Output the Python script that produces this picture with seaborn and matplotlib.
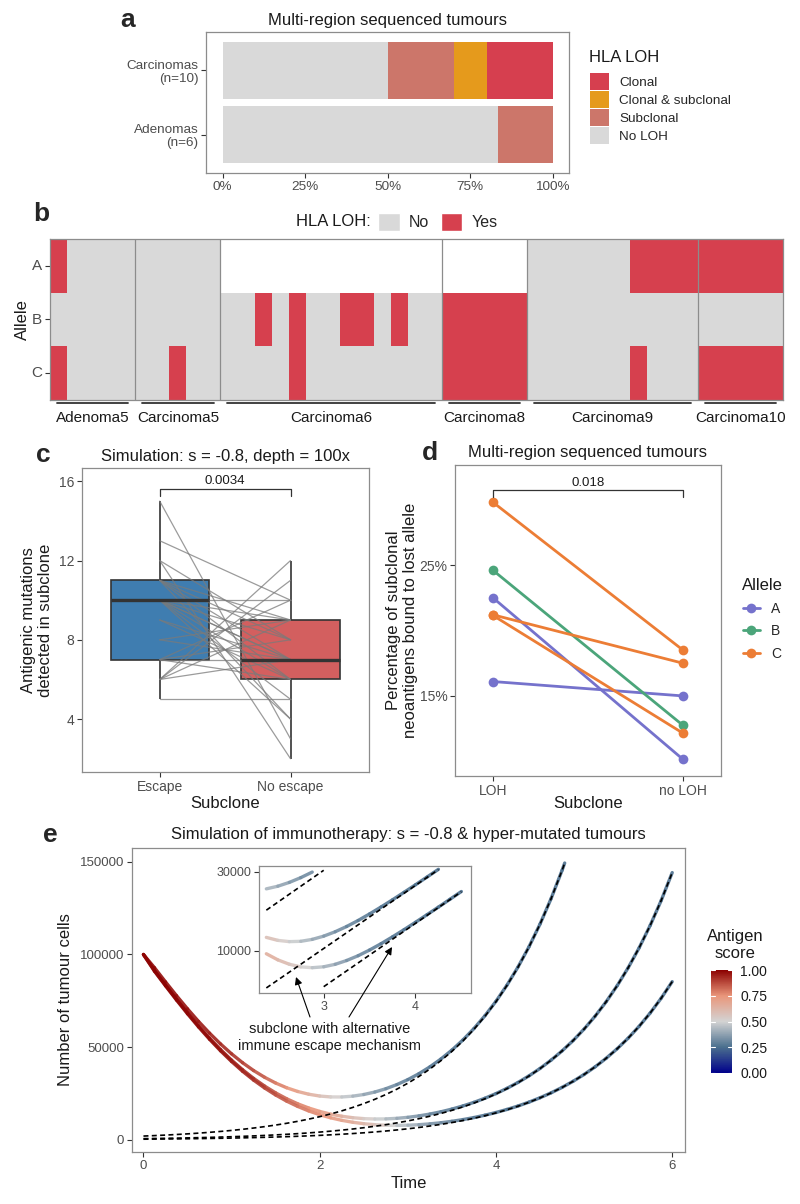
import numpy as np
import pandas as pd
import matplotlib
matplotlib.use("Agg")
import matplotlib.pyplot as plt
import seaborn as sns
from matplotlib.collections import LineCollection
from matplotlib.colors import LinearSegmentedColormap, ListedColormap, Normalize
from matplotlib.cm import ScalarMappable
from matplotlib.patches import Patch
from matplotlib.lines import Line2D
from matplotlib.ticker import NullLocator

sns.set_theme(style="white")
plt.rcParams["font.family"] = ["Liberation Sans", "DejaVu Sans"]

##################################  DATA  #####################################

# a: HLA LOH status per tumour type (counts of tumours)
tumour_types = ["Adenomas\n(n=6)", "Carcinomas\n(n=10)"]
loh_classes = ["No LOH", "Subclonal", "Clonal & subclonal", "Clonal"]
n_no_loh = [5, 5]
n_subclonal = [1, 2]
n_clonal_subclonal = [0, 1]
n_clonal = [0, 2]
loh_colours = ["#D9D9D9", "#CC766A", "#E59A1C", "#D63F4F"]

# b: LOH per region, one character per region ("-" = allele not assessed)
samples = ["Adenoma5", "Carcinoma5", "Carcinoma6", "Carcinoma8", "Carcinoma9", "Carcinoma10"]
n_regions = [5, 5, 13, 5, 10, 5]
alleles = ["A", "B", "C"]
loh_allele_a = ["10000", "00000", "-------------", "-----", "0000001111", "11111"]
loh_allele_b = ["00000", "00000", "0010100110100", "11111", "0000000000", "00000"]
loh_allele_c = ["10000", "00100", "0000100000000", "11111", "0000001000", "11111"]

# c: simulated antigenic mutations, paired escape / no escape subclones
subclone_c = ["Escape", "No escape"]
escape_mut = [15, 13, 12, 12, 11, 11, 11, 11, 11, 10, 10, 10, 10, 10, 10,
              10, 10, 9, 9, 8, 8, 7, 7, 7, 7, 6, 6, 6, 6, 5]
no_escape_mut = [3, 10, 8, 2, 9, 8, 7, 4, 6, 10, 7, 6, 8, 5, 4,
                 9, 7, 7, 6, 7, 9, 10, 7, 8, 6, 12, 11, 9, 7, 5]
box_colours = ["#3F7DB0", "#D35F5F"]

# d: % subclonal neoantigens bound to lost allele
subclone_d = ["LOH", "no LOH"]
allele_d = ["C", "B", "A", "C", "C", "A"]
pct_loh = [29.8, 24.6, 22.5, 21.2, 21.15, 16.1]
pct_no_loh = [18.5, 12.75, 10.15, 17.5, 12.15, 15.0]
allele_colours = {"A": "#7572CC", "B": "#4BA57A", "C": "#EC7D35"}

# e: simulated tumour sizes under immunotherapy
time_t1 = [0.0, 0.125, 0.25, 0.375, 0.5, 0.625, 0.75, 0.875, 1.0, 1.125, 1.25, 1.375,
           1.5, 1.625, 1.75, 1.875, 2.0, 2.125, 2.25, 2.375, 2.5, 2.625, 2.75, 2.875,
           3.0, 3.125, 3.25, 3.375, 3.5, 3.625, 3.75, 3.875, 4.0, 4.125, 4.25, 4.375,
           4.5, 4.625, 4.75, 4.78]
cells_t1 = [100000, 92870, 85230, 77800, 70670, 63910, 57590, 51750, 46430, 41650,
            37440, 33800, 30710, 28160, 26160, 24680, 23700, 23210, 23190, 23630,
            24520, 25850, 27630, 29860, 32550, 35720, 39410, 43640, 48460, 53910,
            60070, 66990, 74760, 83480, 93250, 104180, 116390, 130070, 145350, 149300]
score_t1 = [0.98, 0.981, 0.977, 0.971, 0.965, 0.957, 0.946, 0.933, 0.917, 0.896,
            0.871, 0.84, 0.803, 0.76, 0.711, 0.658, 0.602, 0.546, 0.492, 0.443,
            0.40, 0.364, 0.335, 0.312, 0.295, 0.282, 0.272, 0.265, 0.261, 0.257,
            0.255, 0.253, 0.252, 0.251, 0.251, 0.25, 0.25, 0.25, 0.25, 0.25]
escape_t1 = [2120, 2370, 2648, 2960, 3308, 3697, 4133, 4619, 5162, 5770, 6449, 7208,
             8056, 9004, 10064, 11249, 12571, 14051, 15704, 17552, 19617, 21926, 24506,
             27390, 30613, 34216, 38242, 42743, 47772, 53395, 59676, 66700, 74545,
             83319, 93130, 104091, 116330, 130022, 145320, 149250]

time_t23 = [0.0, 0.125, 0.25, 0.375, 0.5, 0.625, 0.75, 0.875, 1.0, 1.125, 1.25, 1.375,
            1.5, 1.625, 1.75, 1.875, 2.0, 2.125, 2.25, 2.375, 2.5, 2.625, 2.75, 2.875,
            3.0, 3.125, 3.25, 3.375, 3.5, 3.625, 3.75, 3.875, 4.0, 4.125, 4.25, 4.375,
            4.5, 4.625, 4.75, 4.875, 5.0, 5.125, 5.25, 5.375, 5.5, 5.625, 5.75, 5.875, 6.0]
cells_t2 = [100000, 91320, 83500, 75860, 68500, 61480, 54880, 48720, 43040, 37860,
            33200, 29050, 25400, 22230, 19520, 17250, 15400, 13920, 12810, 12010,
            11520, 11320, 11370, 11680, 12220, 12990, 13980, 15200, 16660, 18350,
            20290, 22510, 25010, 27840, 31020, 34580, 38560, 43030, 48010, 53580,
            59800, 66740, 74500, 83160, 92830, 103620, 115670, 129120, 144140]
score_t2 = [0.985, 0.988, 0.99, 0.988, 0.985, 0.98, 0.972, 0.962, 0.95, 0.93,
            0.91, 0.88, 0.85, 0.82, 0.79, 0.76, 0.73, 0.69, 0.65, 0.605,
            0.555, 0.505, 0.456, 0.41, 0.369, 0.34, 0.313, 0.296, 0.281, 0.272,
            0.264, 0.26, 0.256, 0.254, 0.253, 0.252, 0.251, 0.25, 0.25, 0.25,
            0.25, 0.25, 0.25, 0.25, 0.25, 0.25, 0.25, 0.25, 0.25]
escape_t2 = [734, 819, 915, 1021, 1140, 1273, 1420, 1585, 1770, 1976, 2205, 2461,
             2748, 3068, 3424, 3822, 4266, 4762, 5316, 5934, 6624, 7394, 8254, 9214,
             10286, 11482, 12817, 14308, 15971, 17828, 19901, 22215, 24798, 27682,
             30900, 34494, 38503, 42981, 47979, 53559, 59785, 66738, 74496, 83160,
             92827, 103623, 115670, 129123, 144136]
cells_t3 = [100000, 90980, 83110, 75430, 68020, 60950, 54290, 48060, 42300, 37030,
            32280, 28030, 24260, 20950, 18100, 15670, 13630, 11950, 10600, 9560,
            8780, 8260, 7960, 7870, 7970, 8250, 8700, 9300, 10070, 11000,
            12100, 13370, 14820, 16470, 18320, 20420, 22770, 25400, 28350, 31640,
            35320, 39430, 44030, 49170, 54900, 61310, 68460, 76450, 85370]
score_t3 = [0.99, 0.992, 0.993, 0.992, 0.99, 0.985, 0.978, 0.968, 0.955, 0.94,
            0.92, 0.895, 0.87, 0.84, 0.81, 0.785, 0.76, 0.73, 0.70, 0.665,
            0.625, 0.58, 0.53, 0.48, 0.432, 0.39, 0.35, 0.325, 0.301, 0.287,
            0.274, 0.267, 0.261, 0.258, 0.255, 0.253, 0.252, 0.25, 0.25, 0.25,
            0.25, 0.25, 0.25, 0.25, 0.25, 0.25, 0.25, 0.25, 0.25]
escape_t3 = [427, 477, 532, 594, 664, 741, 828, 925, 1033, 1154, 1288, 1438,
             1606, 1793, 2002, 2236, 2497, 2788, 3113, 3476, 3883, 4336, 4842, 5407,
             6038, 6743, 7529, 8408, 9389, 10485, 11708, 13074, 14601, 16305, 18207,
             20332, 22704, 25354, 28314, 31618, 35304, 39424, 44028, 49166, 54899,
             61306, 68461, 76450, 85374]

antigen_colours = ["#00008B", "#4A6F8E", "#D3D3D3", "#E9967A", "#8B0000"]

#################################  HELPERS  ###################################

W, H = 800, 1204
BORDER = "#8C8C8C"
TICK_TXT = "#4D4D4D"
TXT = "#1A1A1A"


def box(x0, y0, x1, y1):
    """Axes rectangle from pixel corners (top-left origin)."""
    return [x0 / W, 1 - y1 / H, (x1 - x0) / W, (y1 - y0) / H]


def fpos(x, y):
    return (x / W, 1 - y / H)


def gg_axes(ax, size=9.5):
    for sp in ax.spines.values():
        sp.set_visible(True)
        sp.set_color(BORDER)
        sp.set_linewidth(0.9)
    ax.tick_params(axis="both", which="major", length=3.5, width=0.8, color="#333333",
                   labelcolor=TICK_TXT, labelsize=size, pad=2, direction="out",
                   bottom=True, left=True)
    ax.grid(False)
    ax.set_xlabel("")
    ax.set_ylabel("")


def gradient_line(ax, t, y, score, cmap, lw=2.4):
    pts = np.column_stack([t, y])
    segs = np.stack([pts[:-1], pts[1:]], axis=1)
    sc = np.asarray(score)
    lc = LineCollection(segs, cmap=cmap, norm=Normalize(0, 1), linewidth=lw,
                        capstyle="round", joinstyle="round", alpha=0.9)
    lc.set_array((sc[:-1] + sc[1:]) / 2)
    ax.add_collection(lc)


fig = plt.figure(figsize=(W / 100, H / 100), dpi=100)

##################################  PANEL A  ##################################

axa = fig.add_axes(box(206, 32, 569, 173))
totals = np.array(n_no_loh) + np.array(n_subclonal) + np.array(n_clonal_subclonal) + np.array(n_clonal)
left = np.zeros(len(tumour_types))
for counts, col in zip([n_no_loh, n_subclonal, n_clonal_subclonal, n_clonal], loh_colours):
    frac = np.array(counts) / totals
    axa.barh(range(len(tumour_types)), frac, left=left, height=0.9, color=col, edgecolor="none")
    left += frac
gg_axes(axa, size=9.7)
axa.set_xlim(-0.05, 1.05)
axa.set_ylim(-0.6, 1.6)
axa.set_xticks([0, 0.25, 0.5, 0.75, 1.0])
axa.set_xticklabels(["0%", "25%", "50%", "75%", "100%"])
axa.set_yticks(range(len(tumour_types)))
axa.set_yticklabels(tumour_types, ha="right", linespacing=1.15)
fig.text(*fpos(387.5, 20), "Multi-region sequenced tumours", fontsize=12,
         ha="center", va="center", color=TXT)

fig.text(*fpos(589, 58), "HLA LOH", fontsize=12, ha="left", va="center", color=TXT)
fig.legend(handles=[Patch(facecolor=c, edgecolor="none") for c in loh_colours[::-1]],
           labels=loh_classes[::-1], loc="upper left", bbox_to_anchor=fpos(590, 73),
           frameon=False, fontsize=9.7, handlelength=1.4, handleheight=1.55,
           labelspacing=0.08, handletextpad=0.75, borderpad=0, borderaxespad=0)

##################################  PANEL B  ##################################

axb = fig.add_axes(box(50, 239, 783, 400))
mat = np.array([[np.nan if ch == "-" else float(ch) for ch in "".join(row)]
                for row in (loh_allele_a, loh_allele_b, loh_allele_c)])
sns.heatmap(mat, ax=axb, cmap=ListedColormap(["#D9D9D9", "#D6404E"]), vmin=0, vmax=1,
            cbar=False, xticklabels=False, yticklabels=alleles)
gg_axes(axb, size=11)
axb.tick_params(axis="x", bottom=False)
axb.set_yticklabels(alleles, rotation=0)
edges = np.cumsum([0] + n_regions)
for e in edges[1:-1]:
    axb.axvline(e, color=BORDER, lw=0.9)
for name, s, e in zip(samples, edges[:-1], edges[1:]):
    axb.plot([s + 0.4, e - 0.4], [3.06, 3.06], color="#333333", lw=1.3, clip_on=False)
    axb.text((s + e) / 2, 3.33, name, ha="center", va="center", fontsize=11, color=TXT)

fig.text(*fpos(296, 222), "HLA LOH:", fontsize=12, va="center", ha="left", color=TXT)
fig.legend(handles=[Patch(facecolor="#D9D9D9"), Patch(facecolor="#D6404E")],
           labels=["No", "Yes"], ncol=2, loc="center left", bbox_to_anchor=fpos(378, 222),
           frameon=False, fontsize=11.5, handlelength=1.35, handleheight=1.35,
           handletextpad=0.6, columnspacing=0.7, borderpad=0, borderaxespad=0)
fig.text(*fpos(22, 320), "Allele", rotation=90, fontsize=12, ha="center", va="center", color=TXT)

##################################  PANEL C  ##################################

axc = fig.add_axes(box(82, 468, 369, 772))
n_c = len(escape_mut)
df_c = pd.DataFrame({
    "pair": list(range(n_c)) * 2,
    "subclone": [subclone_c[0]] * n_c + [subclone_c[1]] * n_c,
    "count": escape_mut + no_escape_mut,
})
df_c["pos"] = df_c["subclone"].map({subclone_c[0]: 0, subclone_c[1]: 1})
sns.boxplot(data=df_c, x="pos", y="count", hue="subclone", hue_order=subclone_c,
            palette=box_colours, native_scale=True, dodge=False, width=0.75,
            showfliers=False, showcaps=False, saturation=1, linewidth=1.2,
            linecolor="#333333", medianprops=dict(linewidth=2.4), legend=False, ax=axc)
sns.lineplot(data=df_c, x="pos", y="count", units="pair", estimator=None, color="#7A7A7A",
             alpha=0.75, linewidth=0.9, legend=False, ax=axc)
gg_axes(axc, size=10)
axc.set_xlim(-0.594, 1.6)
axc.set_ylim(1.33, 16.67)
axc.set_xticks([0, 1])
axc.set_xticklabels(subclone_c)
axc.set_yticks([4, 8, 12, 16])
axc.plot([0, 0, 1, 1], [15.24, 15.63, 15.63, 15.24], color="#333333", lw=0.9)
axc.text(0.5, 15.72, "0.0034", ha="center", va="bottom", fontsize=9.5, color=TXT)
fig.text(*fpos(225.5, 456), "Simulation: s = -0.8, depth = 100x", fontsize=12,
         ha="center", va="center", color=TXT)
fig.text(*fpos(37, 620), "Antigenic mutations\ndetected in subclone", rotation=90,
         fontsize=12, ha="center", va="center", color=TXT, linespacing=1.1)
fig.text(*fpos(225.5, 803), "Subclone", fontsize=12, ha="center", va="center", color=TXT)

##################################  PANEL D  ##################################

axd = fig.add_axes(box(455, 465, 721, 776))
n_d = len(allele_d)
df_d = pd.DataFrame({
    "pair": list(range(n_d)) * 2,
    "pos": [0] * n_d + [1] * n_d,
    "pct": pct_loh + pct_no_loh,
    "allele": allele_d * 2,
})
sns.lineplot(data=df_d, x="pos", y="pct", hue="allele", hue_order=alleles,
             palette=allele_colours, units="pair", estimator=None, marker="o",
             markersize=7, markeredgewidth=0, linewidth=2, legend=False, ax=axd)
gg_axes(axd, size=10)
axd.set_xlim(-0.2, 1.2)
axd.set_ylim(8.88, 32.65)
axd.set_xticks([0, 1])
axd.set_xticklabels(subclone_d)
axd.set_yticks([15, 25])
axd.set_yticklabels(["15%", "25%"])
axd.plot([0, 0, 1, 1], [30.23, 30.74, 30.74, 30.23], color="#333333", lw=0.9)
axd.text(0.5, 30.85, "0.018", ha="center", va="bottom", fontsize=9.5, color=TXT)
fig.text(*fpos(588, 453), "Multi-region sequenced tumours", fontsize=12,
         ha="center", va="center", color=TXT)
fig.text(*fpos(402, 620), "Percentage of subclonal\nneoantigens bound to lost allele",
         rotation=90, fontsize=12, ha="center", va="center", color=TXT, linespacing=1.1)
fig.text(*fpos(588, 803), "Subclone", fontsize=12, ha="center", va="center", color=TXT)
fig.text(*fpos(742, 586), "Allele", fontsize=12, ha="left", va="center", color=TXT)
fig.legend(handles=[Line2D([0], [0], color=allele_colours[a], marker="o", markersize=7,
                           markeredgewidth=0, lw=2) for a in alleles],
           labels=alleles, loc="upper left", bbox_to_anchor=fpos(743, 602),
           frameon=False, fontsize=10, handlelength=1.2, labelspacing=0.6,
           handletextpad=0.8, borderpad=0, borderaxespad=0)

##################################  PANEL E  ##################################

antigen_cmap = LinearSegmentedColormap.from_list(
    "antigen", list(zip([0, 0.25, 0.5, 0.75, 1.0], antigen_colours)))

curves = pd.concat([
    pd.DataFrame({"curve": 1, "time": time_t1, "cells": cells_t1, "score": score_t1, "escape": escape_t1}),
    pd.DataFrame({"curve": 2, "time": time_t23, "cells": cells_t2, "score": score_t2, "escape": escape_t2}),
    pd.DataFrame({"curve": 3, "time": time_t23, "cells": cells_t3, "score": score_t3, "escape": escape_t3}),
], ignore_index=True)

axe = fig.add_axes(box(132, 848, 685, 1152))
for _, d in curves.groupby("curve"):
    gradient_line(axe, d["time"].values, d["cells"].values, d["score"].values, antigen_cmap)
sns.lineplot(data=curves, x="time", y="escape", units="curve", estimator=None, color="black",
             linestyle=(0, (3, 2)), linewidth=1.2, legend=False, ax=axe)
gg_axes(axe)
axe.set_xlim(-0.13, 6.145)
axe.set_ylim(-6470, 157400)
axe.set_xticks([0, 2, 4, 6])
axe.set_yticks([0, 50000, 100000, 150000])
axe.set_yticklabels(["0", "50000", "100000", "150000"])
fig.text(*fpos(408.5, 835), "Simulation of immunotherapy: s = -0.8 & hyper-mutated tumours",
         fontsize=12, ha="center", va="center", color=TXT)
fig.text(*fpos(66, 1000), "Number of tumour cells", rotation=90, fontsize=12,
         ha="center", va="center", color=TXT)
fig.text(*fpos(408.5, 1184), "Time", fontsize=12, ha="center", va="center", color=TXT)

# inset: zoom on the escape window, log scale
axi = fig.add_axes(box(259, 866, 471, 993))
win = curves[(curves["time"] >= 2.37) & (curves["time"] <= 4.5)]
for _, d in win[win["cells"] <= 31500].groupby("curve"):
    gradient_line(axi, d["time"].values, d["cells"].values, d["score"].values, antigen_cmap)
esc = win[(win["escape"] >= 5500) & (win["escape"] <= 31500)]
sns.lineplot(data=esc, x="time", y="escape", units="curve", estimator=None, color="black",
             linestyle=(0, (3, 2)), linewidth=1.2, legend=False, ax=axi)
gg_axes(axi, size=9)
axi.set_yscale("log")
axi.set_xlim(2.295, 4.605)
axi.set_ylim(5530, 32500)
axi.set_xticks([3, 4])
axi.set_yticks([10000, 30000])
axi.set_yticklabels(["10000", "30000"])
axi.yaxis.set_minor_locator(NullLocator())

for tail, head in [((310, 1017), (296, 977)), ((349, 1017), (392, 947))]:
    axi.annotate("", xy=fpos(*head), xycoords="figure fraction", xytext=fpos(*tail),
                 textcoords="figure fraction", annotation_clip=False,
                 arrowprops=dict(arrowstyle="-|>", color="black", lw=0.8,
                                 mutation_scale=11, shrinkA=0, shrinkB=0))
fig.text(*fpos(330, 1037.5), "subclone with alternative\nimmune escape mechanism",
         fontsize=10.5, ha="center", va="center", color=TXT, linespacing=1.25)

# colour bar
cax = fig.add_axes(box(711, 970, 732, 1073))
cb = fig.colorbar(ScalarMappable(norm=Normalize(0, 1), cmap=antigen_cmap), cax=cax)
cb.outline.set_visible(False)
cb.set_ticks([0, 0.25, 0.5, 0.75, 1.0])
cb.set_ticklabels(["0.00", "0.25", "0.50", "0.75", "1.00"])
cax.tick_params(length=0, labelsize=10, pad=6, labelcolor=TXT)
for v in [0, 0.25, 0.5, 0.75, 1.0]:
    cax.axhline(v, 0, 0.2, color="white", lw=0.8)
    cax.axhline(v, 0.8, 1, color="white", lw=0.8)
fig.text(*fpos(735, 945), "Antigen\nscore", fontsize=12, ha="center", va="center",
         color=TXT, multialignment="center", linespacing=1.1)

# panel letters
for letter, (x, y) in zip("abcde", [(128, 20), (41, 214), (43, 455), (430, 453), (50, 835)]):
    fig.text(*fpos(x, y), letter, fontsize=19, fontweight="bold", ha="center", va="center")

fig.savefig("out.png", dpi=100)
